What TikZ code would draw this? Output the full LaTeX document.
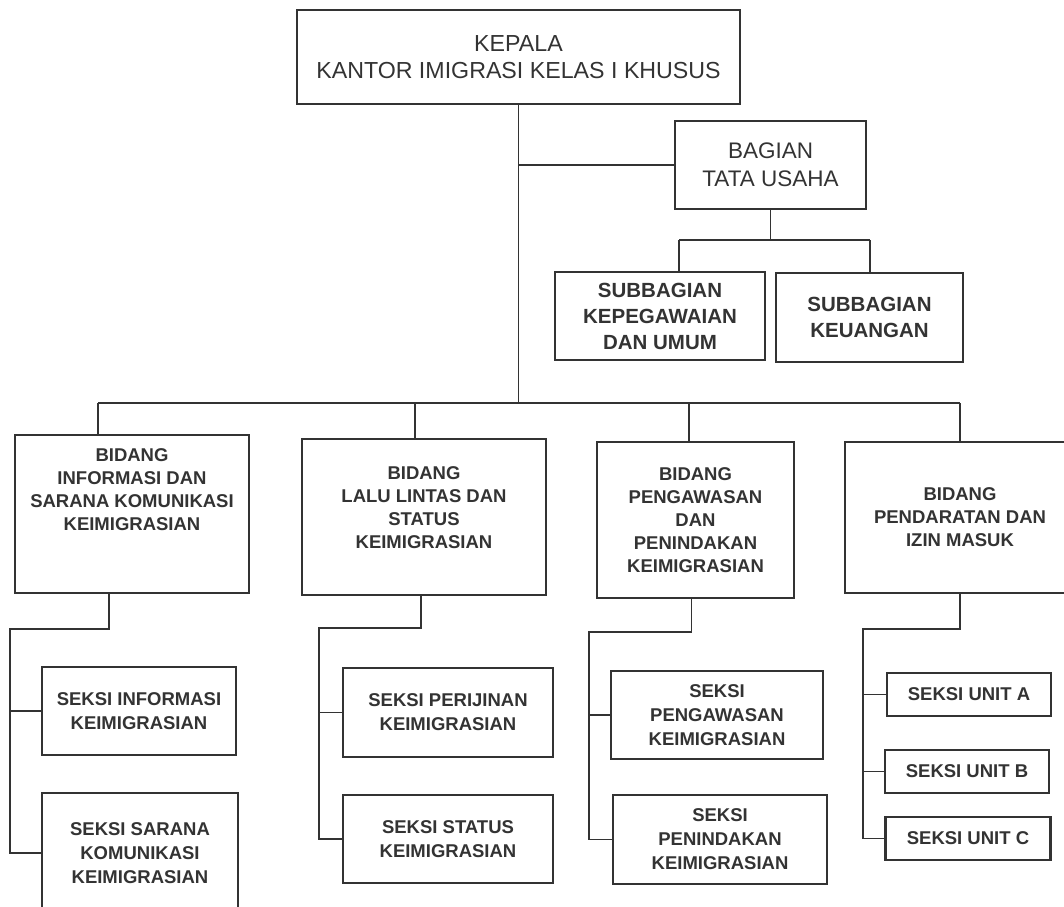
\documentclass[tikz,border=0pt]{standalone}
\usepackage{fontspec}
\setmainfont{Liberation Sans}
\usetikzlibrary{positioning}
\definecolor{ink}{rgb}{0.2,0.2,0.2}

\begin{document}
\begin{tikzpicture}
    [x=1pt, y=-1pt,
    wh/.style 2 args={minimum width=#1pt, minimum height=#2pt},
    box/.style={draw=ink, line width=2.3pt, text=ink, align=center, inner sep=0pt},
    head/.style={box, font=\fontsize{23.2}{27}\selectfont},
    bagian/.style={box, font=\fontsize{22.5}{28}\selectfont},
    sub/.style={box, font=\bfseries\fontsize{20.5}{26}\selectfont},
    bidang/.style={box, font=\bfseries\fontsize{18.5}{23}\selectfont},
    bidtext/.style={text=ink, align=center, inner sep=0pt, font=\bfseries\fontsize{18.5}{23}\selectfont},
    seksi/.style={box, font=\bfseries\fontsize{18.5}{24}\selectfont},
    link/.style={draw=ink, line width=1.7pt}]
     \useasboundingbox (0,0) rectangle (1064,906);
     \clip (0,0) rectangle (1064,906);
     % kepala dan tata usaha
     \node[head, wh={443}{94}] (kepala) at (518.5,57)   {KEPALA\\KANTOR IMIGRASI KELAS I KHUSUS};
     \node[bagian, wh={191}{88}] (bagian) at (770.5,165) {BAGIAN\\TATA USAHA};
     \node[sub, wh={210}{88}] (subkep) at (660,316)      {SUBBAGIAN\\KEPEGAWAIAN\\DAN UMUM};
     \node[sub, wh={187}{89}] (subkeu) at (869.5,317.5)  {SUBBAGIAN\\KEUANGAN};
     % bidang
     \node[bidang, wh={234}{158},
           label={[bidtext, anchor=north, yshift=-15pt]north:{BIDANG\\INFORMASI DAN\\SARANA KOMUNIKASI\\KEIMIGRASIAN}}]
           (bidinfo) at (132,514) {};
     \node[bidang, wh={244}{156},
           label={[bidtext, anchor=north, yshift=-29pt]north:{BIDANG\\LALU LINTAS DAN\\STATUS\\KEIMIGRASIAN}}]
           (bidlalu) at (424,517) {};
     \node[bidang, wh={197}{156}] (bidawas) at (695.5,520)  {BIDANG\\PENGAWASAN\\DAN\\PENINDAKAN\\KEIMIGRASIAN};
     \node[bidang, wh={230}{151}] (biddarat) at (960,517.5) {BIDANG\\PENDARATAN DAN\\IZIN MASUK};
     % seksi
     \node[seksi, wh={194}{88}] (sinfo) at (139,711)      {SEKSI INFORMASI\\KEIMIGRASIAN};
     \node[seksi, wh={196}{120}] (ssarana) at (140,853)   {SEKSI SARANA\\KOMUNIKASI\\KEIMIGRASIAN};
     \node[seksi, wh={210}{89}] (sizin) at (448,712.5)    {SEKSI PERIJINAN\\KEIMIGRASIAN};
     \node[seksi, wh={210}{88}] (sstatus) at (448,839)    {SEKSI STATUS\\KEIMIGRASIAN};
     \node[seksi, wh={212}{88}] (sawas) at (717,715)      {SEKSI\\PENGAWASAN\\KEIMIGRASIAN};
     \node[seksi, wh={214}{89}] (stindak) at (720,839.5)  {SEKSI\\PENINDAKAN\\KEIMIGRASIAN};
     \node[seksi, wh={164}{43}] (unita) at (969,694.5)    {SEKSI UNIT A};
     \node[seksi, wh={164}{43}] (unitb) at (967,771.5)    {SEKSI UNIT B};
     \node[seksi, wh={165}{43}] (unitc) at (968,838.5)    {SEKSI UNIT C};
     % garis
     \coordinate (bar1) at (98,403);
     \coordinate (bar2) at (415,403);
     \coordinate (bar3) at (689,403);
     \coordinate (bar4) at (960,403);
     \draw[link] (kepala.south) -- (kepala.south |- bar1);
     \draw[link] (kepala.south |- bagian.west) -- (bagian.west);
     \draw[link] (bar1) -- (bar4);
     \foreach \n/\b in {bar1/bidinfo, bar2/bidlalu, bar3/bidawas, bar4/biddarat}
        \draw[link] (\n) -- (\n |- \b.north);
     \coordinate (tu1) at (679,240);
     \coordinate (tu2) at (870,240);
     \draw[link] (bagian.south) -- (bagian.south |- tu1);
     \draw[link] (tu1) -- (tu2);
     \draw[link] (tu1) -- (tu1 |- subkep.north);
     \draw[link] (tu2) -- (tu2 |- subkeu.north);
     \coordinate (info) at (10,629);
     \draw[link] ([xshift=-23pt]bidinfo.south) |- (info) -- (info |- ssarana.west) -- (ssarana.west);
     \draw[link] (info |- sinfo.west) -- (sinfo.west);
     \coordinate (lalu) at (319,628);
     \draw[link] ([xshift=-3pt]bidlalu.south) |- (lalu) -- (lalu |- sstatus.west) -- (sstatus.west);
     \draw[link] (lalu |- sizin.west) -- (sizin.west);
     \coordinate (awas) at (589,632);
     \draw[link] ([xshift=-4pt]bidawas.south) |- (awas) -- (awas |- stindak.west) -- (stindak.west);
     \draw[link] (awas |- sawas.west) -- (sawas.west);
     \coordinate (darat) at (863,629);
     \draw[link] (biddarat.south) |- (darat) -- (darat |- unitc.west) -- (unitc.west);
     \draw[link] (darat |- unita.west) -- (unita.west);
     \draw[link] (darat |- unitb.west) -- (unitb.west);
\end{tikzpicture}
\end{document}
